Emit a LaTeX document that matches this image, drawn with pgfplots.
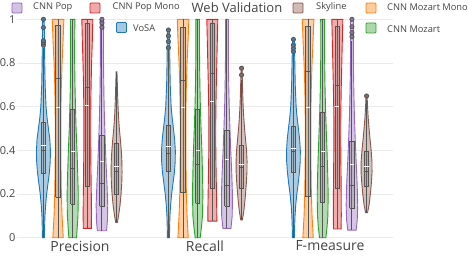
\documentclass[border=0pt]{standalone}
\usepackage{pgfplots}
\pgfplotsset{compat=1.18}
\usepackage{pgfplotstable}
\usepackage{fontspec}
\setmainfont{Open Sans}
\definecolor{cB}{HTML}{1F77B4}
\definecolor{cO}{HTML}{FF7F0E}
\definecolor{cG}{HTML}{2CA02C}
\definecolor{cR}{HTML}{D62728}
\definecolor{cP}{HTML}{9467BD}
\definecolor{cS}{HTML}{8C564B}
\definecolor{txt}{HTML}{444444}
\definecolor{boxc}{HTML}{555555}
\definecolor{gridc}{HTML}{EBEBEB}

% builds closed outline: right side up, left side down
\newcommand{\mkpoly}[1]{%
  \pgfplotstablesort[sort key=y, sort cmp=float >]{\tmprev}{#1}%
  \pgfplotstablecreatecol[create col/expr={-\thisrow{w}}]{xn}{\tmprev}%
  \pgfplotstablecreatecol[create col/expr={\thisrow{w}}]{xn}{#1}%
  \pgfplotstablevertcat{#1}{\tmprev}%
}

% violin profiles: y, half width (px)
\pgfplotstableread[row sep=\\]{y w\\0 1.0\\0.05 1.2\\0.1 1.5\\0.15 2.2\\0.2 3.2\\0.25 4.6\\0.3 6.0\\0.35 6.8\\0.4 7.0\\0.45 6.4\\0.5 5.0\\0.55 3.6\\0.6 2.6\\0.7 1.7\\0.8 1.3\\0.9 1.1\\1.0 0.7\\}\BP
\pgfplotstableread[row sep=\\]{y w\\0 5.2\\0.05 4.6\\0.1 4.0\\0.2 3.3\\0.3 3.0\\0.4 2.8\\0.5 2.8\\0.6 2.9\\0.7 3.3\\0.8 4.0\\0.9 5.0\\1.0 5.8\\}\OP
\pgfplotstableread[row sep=\\]{y w\\0 3.8\\0.05 4.6\\0.1 5.3\\0.2 5.6\\0.3 5.0\\0.4 4.3\\0.5 3.4\\0.6 2.8\\0.7 2.3\\0.8 2.0\\0.9 2.0\\1.0 2.2\\}\GP
\pgfplotstableread[row sep=\\]{y w\\0.043 4.0\\0.1 4.2\\0.2 4.0\\0.3 3.7\\0.4 3.5\\0.5 3.4\\0.6 3.5\\0.7 3.8\\0.8 4.3\\0.9 5.0\\1.0 5.5\\}\RP
\pgfplotstableread[row sep=\\]{y w\\0.032 4.6\\0.08 5.5\\0.15 5.8\\0.25 5.0\\0.35 4.0\\0.45 3.2\\0.55 2.5\\0.65 2.0\\0.75 1.7\\0.85 1.5\\0.95 1.6\\1.0 1.8\\}\PP
\pgfplotstableread[row sep=\\]{y w\\0.07 0.8\\0.1 2.0\\0.15 3.5\\0.2 4.5\\0.25 5.2\\0.3 5.5\\0.35 5.3\\0.4 4.7\\0.45 3.8\\0.5 2.8\\0.55 2.0\\0.6 1.5\\0.65 1.1\\0.7 0.8\\0.76 0.4\\}\SP

\pgfplotstableread[row sep=\\]{y w\\0 1.0\\0.05 1.2\\0.1 1.5\\0.15 2.2\\0.2 3.2\\0.25 4.6\\0.3 6.0\\0.35 6.8\\0.4 6.9\\0.45 6.2\\0.5 5.0\\0.55 3.7\\0.6 2.7\\0.7 1.8\\0.8 1.4\\0.9 1.2\\0.951 0.9\\}\BR
\pgfplotstableread[row sep=\\]{y w\\0 5.2\\0.05 4.6\\0.1 4.0\\0.2 3.3\\0.3 3.0\\0.4 2.8\\0.5 2.8\\0.6 2.9\\0.7 3.3\\0.8 4.0\\0.9 5.0\\1.0 5.8\\}\OR
\pgfplotstableread[row sep=\\]{y w\\0 2.5\\0.05 3.8\\0.1 4.8\\0.2 5.2\\0.3 4.8\\0.4 4.2\\0.5 3.4\\0.6 2.7\\0.7 2.2\\0.8 1.9\\0.9 1.8\\1.0 1.8\\}\GR
\pgfplotstableread[row sep=\\]{y w\\0.076 4.5\\0.1 4.5\\0.2 4.2\\0.3 3.8\\0.4 3.5\\0.5 3.4\\0.6 3.6\\0.7 4.0\\0.8 4.5\\0.9 5.0\\1.0 5.5\\}\RR
\pgfplotstableread[row sep=\\]{y w\\0.043 4.0\\0.1 5.3\\0.2 5.5\\0.3 4.8\\0.4 3.8\\0.5 3.0\\0.6 2.3\\0.7 1.8\\0.8 1.5\\0.9 1.4\\1.0 1.4\\}\PR
\pgfplotstableread[row sep=\\]{y w\\0.081 0.8\\0.12 2.2\\0.18 3.6\\0.25 4.8\\0.3 5.4\\0.35 5.5\\0.4 5.0\\0.45 4.0\\0.5 3.0\\0.55 2.2\\0.6 1.6\\0.65 1.2\\0.7 0.9\\0.776 0.5\\}\SR

\pgfplotstableread[row sep=\\]{y w\\0 1.0\\0.05 1.2\\0.1 1.6\\0.15 2.3\\0.2 3.4\\0.25 4.8\\0.3 6.0\\0.35 6.8\\0.4 6.9\\0.45 6.2\\0.5 5.0\\0.55 3.7\\0.6 2.7\\0.7 1.8\\0.8 1.4\\0.908 0.9\\}\BF
\pgfplotstableread[row sep=\\]{y w\\0 5.2\\0.05 4.6\\0.1 4.0\\0.2 3.3\\0.3 3.0\\0.4 2.8\\0.5 2.8\\0.6 2.9\\0.7 3.3\\0.8 4.0\\0.9 5.0\\1.0 5.8\\}\OF
\pgfplotstableread[row sep=\\]{y w\\0 3.2\\0.05 4.4\\0.1 5.2\\0.2 5.5\\0.3 5.0\\0.4 4.3\\0.5 3.5\\0.6 2.8\\0.7 2.3\\0.8 2.0\\0.9 1.9\\1.0 2.0\\}\GF
\pgfplotstableread[row sep=\\]{y w\\0.04 3.8\\0.1 4.0\\0.2 3.9\\0.3 3.7\\0.4 3.5\\0.5 3.4\\0.6 3.6\\0.7 4.0\\0.8 4.5\\0.9 5.0\\1.0 5.5\\}\RF
\pgfplotstableread[row sep=\\]{y w\\0.035 4.2\\0.08 5.3\\0.15 5.8\\0.25 5.2\\0.35 4.2\\0.45 3.3\\0.55 2.5\\0.65 2.0\\0.75 1.6\\0.85 1.4\\0.95 1.4\\1.0 1.5\\}\PF
\pgfplotstableread[row sep=\\]{y w\\0.115 1.0\\0.15 2.5\\0.2 3.8\\0.25 4.8\\0.3 5.5\\0.35 5.4\\0.4 4.6\\0.45 3.5\\0.5 2.5\\0.55 1.6\\0.6 1.0\\0.649 0.5\\}\SF

\mkpoly\BP \mkpoly\OP \mkpoly\GP \mkpoly\RP \mkpoly\PP \mkpoly\SP
\mkpoly\BR \mkpoly\OR \mkpoly\GR \mkpoly\RR \mkpoly\PR \mkpoly\SR
\mkpoly\BF \mkpoly\OF \mkpoly\GF \mkpoly\RF \mkpoly\PF \mkpoly\SF

% #1 group, #2 slot, #3 colour, #4 table
\newcommand{\violin}[4]{%
  \pgfmathsetmacro\vc{#1+(#2-2.5)*0.117}%
  \addplot[fill=#3, fill opacity=0.38, draw=#3, line width=0.9pt] table[x expr=\vc+\thisrow{xn}/125, y=y]{#4} -- cycle;
}
% #1 group, #2 slot, #3 lo, #4 q1, #5 dark line, #6 white line, #7 q3, #8 hi
\newcommand{\vbx}[8]{%
  \pgfmathsetmacro\vc{#1+(#2-2.5)*0.117}%
  \pgfmathsetmacro\bxl{\vc-0.017}%
  \pgfmathsetmacro\bxr{\vc+0.017}%
  \addplot[draw=boxc, line width=1pt] coordinates {(\vc,#3) (\vc,#8)};
  \addplot[draw=boxc, fill=gray, fill opacity=0.3, line width=1pt] coordinates {(\bxl,#4) (\bxr,#4) (\bxr,#7) (\bxl,#7) (\bxl,#4)};
  \addplot[draw=boxc, line width=1pt] coordinates {(\bxl,#5) (\bxr,#5)};
  \addplot[draw=white, line width=1pt] coordinates {(\bxl,#6) (\bxr,#6)};
}
\newcommand{\outl}[4]{%
  \pgfmathsetmacro\vc{#1+(#2-2.5)*0.117}%
  \addplot[only marks, mark=*, mark size=2.1pt, mark options={fill=#3!55!gray, draw=boxc, line width=0.8pt}] table[x expr=\vc, y index=0, header=false, row sep=\\]{#4};
}

\begin{document}
\begin{tikzpicture}
\path[use as bounding box] (0,0) rectangle (469pt,255pt);
\begin{axis}[
  at={(17.5pt,17.3pt)}, anchor=south west,
  scale only axis, width=375pt, height=218.4pt,
  xmin=-0.5, xmax=2.5, ymin=0, ymax=1,
  clip=false,
  axis line style={draw=none},
  major tick length=0pt,
  ytick={0,0.2,0.4,0.6,0.8,1},
  yticklabels={0,0.2,0.4,0.6,0.8,1},
  xtick={0,1,2},
  xticklabels={Precision,Recall,F-measure},
  ymajorgrids,
  grid style={draw=gridc, line width=0.8pt},
  yticklabel style={font=\fontsize{11}{13}\selectfont, text=txt, anchor=east, inner sep=0pt, xshift=-2pt},
  xticklabel style={font=\fontsize{14}{16}\selectfont, text=txt, anchor=north, inner sep=0pt, yshift=-3pt},
]
% Precision
\violin{0}{0}{cB}{\BP}
\violin{0}{1}{cO}{\OP}
\violin{0}{2}{cG}{\GP}
\violin{0}{3}{cR}{\RP}
\violin{0}{4}{cP}{\PP}
\violin{0}{5}{cS}{\SP}
% Recall
\violin{1}{0}{cB}{\BR}
\violin{1}{1}{cO}{\OR}
\violin{1}{2}{cG}{\GR}
\violin{1}{3}{cR}{\RR}
\violin{1}{4}{cP}{\PR}
\violin{1}{5}{cS}{\SR}
% F-measure
\violin{2}{0}{cB}{\BF}
\violin{2}{1}{cO}{\OF}
\violin{2}{2}{cG}{\GF}
\violin{2}{3}{cR}{\RF}
\violin{2}{4}{cP}{\PF}
\violin{2}{5}{cS}{\SF}

\vbx{0}{0}{0}{0.295}{0.40}{0.42}{0.527}{0.87}
\vbx{0}{1}{0}{0.185}{0.727}{0.595}{0.97}{1}
\vbx{0}{2}{0}{0.153}{0.318}{0.394}{0.588}{1}
\vbx{0}{3}{0.043}{0.234}{0.69}{0.607}{0.98}{1}
\vbx{0}{4}{0.032}{0.145}{0.249}{0.348}{0.466}{0.95}
\vbx{0}{5}{0.07}{0.20}{0.302}{0.325}{0.432}{0.76}

\vbx{1}{0}{0}{0.302}{0.386}{0.417}{0.513}{0.86}
\vbx{1}{1}{0}{0.206}{0.718}{0.597}{0.963}{1}
\vbx{1}{2}{0}{0.157}{0.333}{0.398}{0.589}{1}
\vbx{1}{3}{0.076}{0.223}{0.753}{0.623}{0.98}{1}
\vbx{1}{4}{0.043}{0.145}{0.237}{0.356}{0.493}{1}
\vbx{1}{5}{0.081}{0.226}{0.322}{0.337}{0.424}{0.72}

\vbx{2}{0}{0}{0.298}{0.394}{0.409}{0.511}{0.84}
\vbx{2}{1}{0}{0.188}{0.763}{0.597}{0.969}{1}
\vbx{2}{2}{0}{0.16}{0.328}{0.394}{0.573}{1}
\vbx{2}{3}{0.04}{0.226}{0.695}{0.60}{0.969}{1}
\vbx{2}{4}{0.035}{0.134}{0.237}{0.333}{0.44}{0.90}
\vbx{2}{5}{0.115}{0.234}{0.302}{0.325}{0.394}{0.63}

\outl{0}{0}{cB}{0.882\\0.893\\0.902\\0.962\\1.0\\}
\outl{0}{4}{cP}{0.963\\0.984\\1.0\\}
\outl{1}{0}{cB}{0.870\\0.898\\0.924\\0.951\\}
\outl{1}{5}{cS}{0.745\\0.776\\}
\outl{2}{0}{cB}{0.852\\0.867\\0.882\\0.908\\}
\outl{2}{4}{cP}{0.92\\0.939\\0.966\\1.0\\}
\outl{2}{5}{cS}{0.649\\}
\end{axis}

% title and legend
\node[anchor=west, inner sep=0pt, text=txt, font=\fontsize{13}{15}\selectfont] at (191.5pt,247.5pt) {Web Validation};
\tikzset{lgbox/.style={line width=0.9pt, rounded corners=1pt}}
\tikzset{lgtxt/.style={anchor=west, inner sep=0pt, text=txt, font=\fontsize{9.3}{11}\selectfont}}
\draw[lgbox, draw=cP, fill=cP!40] (12pt,242pt) rectangle (22pt,252pt);
\node[lgtxt] at (33pt,247.5pt) {CNN Pop};
\draw[lgbox, draw=cR, fill=cR!40] (90pt,242pt) rectangle (100pt,252pt);
\node[lgtxt] at (112.5pt,247.5pt) {CNN Pop Mono};
\draw[lgbox, draw=cB, fill=cB!40] (116.5pt,222.5pt) rectangle (126.5pt,232.5pt);
\node[lgtxt] at (133pt,227pt) {VoSA};
\draw[lgbox, draw=cS, fill=cS!40] (293pt,242pt) rectangle (303pt,252pt);
\node[lgtxt] at (316pt,247.5pt) {Skyline};
\draw[lgbox, draw=cO, fill=cO!40] (366pt,242pt) rectangle (376pt,252pt);
\node[lgtxt] at (387pt,247.5pt) {CNN Mozart Mono};
\draw[lgbox, draw=cG, fill=cG!40] (366pt,222pt) rectangle (376pt,232pt);
\node[lgtxt] at (387pt,226pt) {CNN Mozart};
\end{tikzpicture}
\end{document}
